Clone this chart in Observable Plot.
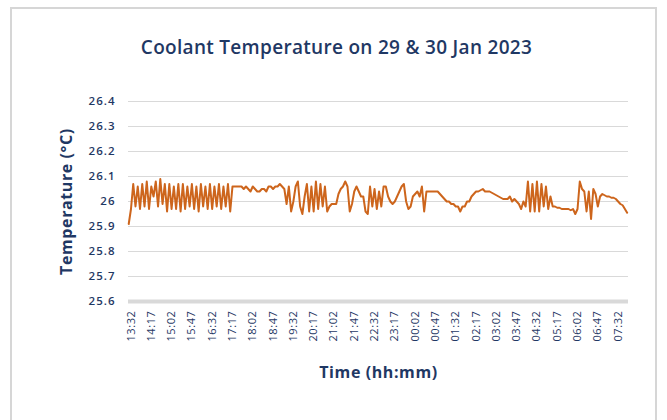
<!DOCTYPE html>
<html><head><meta charset="utf-8">
<script src="https://cdn.jsdelivr.net/npm/d3@7"></script>
<script src="https://cdn.jsdelivr.net/npm/@observablehq/plot@0.6"></script>
<style>
html,body{margin:0;padding:0;background:#fff;}
#wrap{position:relative;width:667px;height:420px;overflow:hidden;font-family:"Open Sans",sans-serif;}
#frame{position:absolute;left:10px;top:7px;width:647px;height:420px;border:2px solid #d6d6d6;box-sizing:border-box;}
#title{position:absolute;left:0;top:34px;width:673px;text-align:center;font-size:19px;font-weight:600;letter-spacing:0.3px;color:#1f3864;line-height:26px;}
#chart{position:absolute;left:0;top:0;}
[aria-label="y-axis tick label"] text{letter-spacing:1px;}
[aria-label="x-axis tick label"] text{letter-spacing:0.6px;}
[aria-label="text"] text{letter-spacing:0.6px;}
</style></head><body>
<div id="wrap"><div id="frame"></div><div id="title">Coolant Temperature on 29 &amp; 30 Jan 2023</div><div id="chart"></div></div>
<script>
// samples every 5 minutes, first sample 5 minutes before 13:32
const startMinute = -5;
const stepMinutes = 5;
const temperatures = [
25.91,25.97,26.07,25.98,26.06,25.97,26.07,25.98,26.08,25.97,
26.06,26.02,26.08,25.98,26.09,25.99,26.07,25.96,26.07,25.97,
26.06,25.97,26.07,25.96,26.07,25.97,26.06,25.98,26.07,25.97,
26.06,25.96,26.07,25.98,26.06,25.97,26.07,25.97,26.06,25.98,
26.07,25.97,26.06,25.98,26.07,25.96,26.06,26.06,26.06,26.06,
26.06,26.05,26.06,26.05,26.04,26.06,26.05,26.04,26.04,26.05,
26.05,26.04,26.06,26.06,26.05,26.06,26.06,26.07,26.06,26.05,
25.99,26.06,25.96,26.00,26.06,26.08,25.98,25.95,26.02,26.07,
25.96,26.06,25.96,26.08,25.97,26.07,25.98,26.06,25.96,25.98,
25.99,25.99,25.99,26.03,26.05,26.06,26.08,26.06,25.96,25.99,
26.04,26.06,26.04,26.02,26.02,25.96,25.95,26.06,25.98,26.05,
25.97,26.04,25.98,26.06,26.06,26.02,26.00,25.99,26.00,26.02,
26.04,26.06,26.07,26.00,25.97,25.98,26.02,26.03,26.04,26.02,
26.06,25.96,26.04,26.04,26.04,26.04,26.04,26.04,26.03,26.02,
26.01,26.00,26.00,25.99,25.99,25.98,25.98,25.96,25.98,25.98,
26.00,26.00,26.02,26.03,26.04,26.04,26.045,26.05,26.04,26.04,
26.04,26.035,26.03,26.025,26.02,26.015,26.01,26.01,26.01,26.02,
26.00,26.01,26.00,25.99,25.97,26.00,25.98,26.08,25.96,26.07,
25.96,26.08,25.96,26.07,25.98,26.06,25.97,26.02,25.98,25.98,
25.975,25.975,25.97,25.97,25.97,25.97,25.965,25.97,25.95,25.97,
26.08,26.05,26.04,25.96,26.04,25.93,26.05,26.03,25.98,26.02,
26.03,26.025,26.02,26.02,26.015,26.015,26.01,26.00,25.99,25.985,
25.97,25.955
];
const tickLabels = ["13:32","14:17","15:02","15:47","16:32","17:17","18:02","18:47","19:32","20:17","21:02","21:47","22:32","23:17","00:02","00:47","01:32","02:17","03:02","03:47","04:32","05:17","06:02","06:47","07:32"];
const yTicks = [25.6,25.7,25.8,25.9,26.0,26.1,26.2,26.3,26.4];
const yLabel = "Temperature (°C)";
const xLabel = "Time (hh:mm)";

const toMin = s => { const [h,m] = s.split(":").map(Number); return ((h*60+m) - (13*60+32) + 1440) % 1440; };
const tickMinutes = tickLabels.map(toMin);
const labelOf = new Map(tickMinutes.map((m,i)=>[m, tickLabels[i]]));
const data = temperatures.map((v,i)=>({t: startMinute + i*stepMinutes, v}));
const navy = "#1f3864";

const chart = Plot.plot({
  width: 667, height: 420,
  marginLeft: 128, marginRight: 39, marginTop: 101, marginBottom: 119,
  style: {fontFamily: '"Open Sans", sans-serif', background: "transparent", color: navy, overflow: "visible"},
  x: {domain: [-5.5, 1103]},
  y: {domain: [25.6, 26.4]},
  marks: [
    Plot.ruleY(yTicks.slice(1), {stroke: "#d9d9d9", strokeWidth: 1}),
    Plot.ruleY([yTicks[0]], {stroke: "#d9d9d9", strokeWidth: 4}),
    Plot.axisY(yTicks, {tickSize: 0, tickPadding: 13, tickFormat: d => String(+d.toFixed(1)), fontSize: 11.5, fontWeight: 600, fill: navy, label: null}),
    Plot.axisX(tickMinutes, {tickSize: 0, tickPadding: 9, tickRotate: -90, tickFormat: d => labelOf.get(d), fontSize: 11, fill: navy, label: null}),
    Plot.lineY(data, {x: "t", y: "v", stroke: "#cd651c", strokeWidth: 2}),
    Plot.text([xLabel], {frameAnchor: "bottom", dy: 71, lineAnchor: "middle", fontSize: 16, fontWeight: "bold", fill: navy}),
    Plot.text([yLabel], {frameAnchor: "left", dx: -62, rotate: -90, textAnchor: "middle", lineAnchor: "middle", fontSize: 16, fontWeight: "bold", fill: navy})
  ]
});
document.getElementById("chart").appendChild(chart);
</script>
</body></html>
